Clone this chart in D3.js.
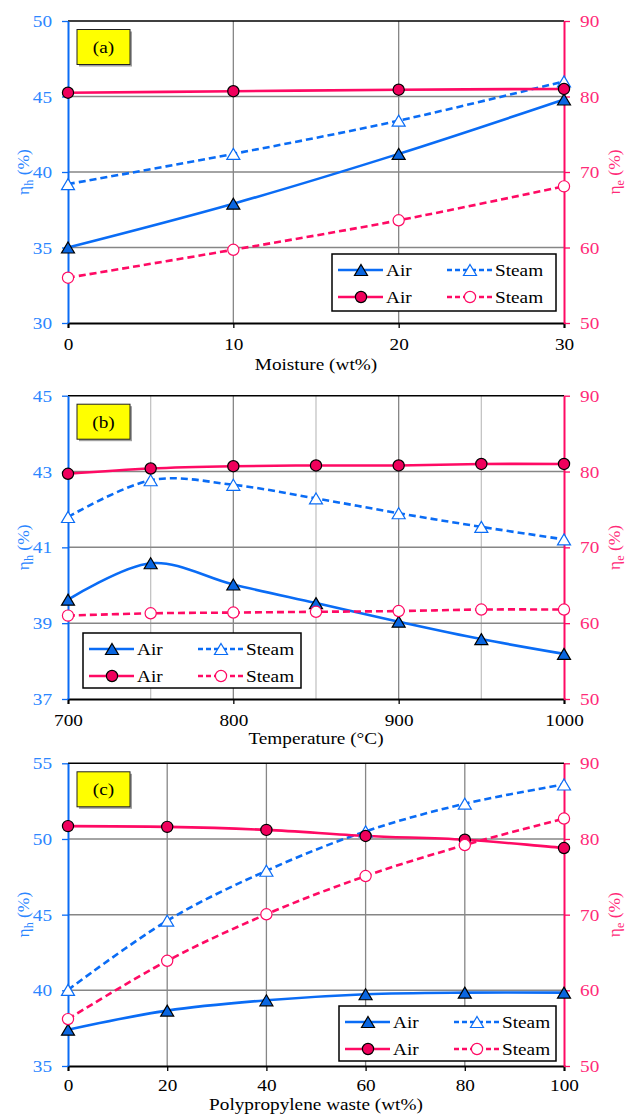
<!DOCTYPE html>
<html><head><meta charset="utf-8">
<script src="https://cdn.jsdelivr.net/npm/d3@7/dist/d3.min.js"></script>
<style>body{margin:0;background:#fff}svg{display:block}text{font-family:"Liberation Serif","Times New Roman",serif}</style>
</head><body>
<svg id="chart" width="627" height="1115"></svg>
<script>
// ---- data ----
const moisture = [0, 10, 20, 30];
const aHAir = [35.0, 37.9, 41.2, 44.8];
const aHSteam = [39.2, 41.2, 43.4, 46.0];
const aEAir = [80.5, 80.7, 80.9, 81.0];
const aESteam = [56.0, 59.7, 63.6, 68.1];

const temperature = [700, 750, 800, 850, 900, 950, 1000];
const bHAir = [39.62, 40.58, 40.02, 39.53, 39.04, 38.58, 38.19];
const bHSteam = [41.8, 42.77, 42.65, 42.29, 41.9, 41.54, 41.21];
const bEAir = [79.7, 80.4, 80.7, 80.8, 80.8, 81.0, 81.0];
const bESteam = [61.0, 61.3, 61.4, 61.5, 61.6, 61.8, 61.8];

const ppWaste = [0, 20, 40, 60, 80, 100];
const cHAir = [37.4, 38.66, 39.34, 39.74, 39.85, 39.85];
const cHSteam = [40.03, 44.6, 47.9, 50.5, 52.33, 53.6];
const cEAir = [81.7, 81.6, 81.2, 80.4, 79.9, 78.8];
const cESteam = [56.2, 63.9, 70.05, 75.1, 79.2, 82.7];

const aXTicks = [0, 10, 20, 30];
const aHTicks = [30, 35, 40, 45, 50];
const bXTicks = [700, 800, 900, 1000];
const bXMinor = [750, 850, 950];
const bHTicks = [37, 39, 41, 43, 45];
const cXTicks = [0, 20, 40, 60, 80, 100];
const cHTicks = [35, 40, 45, 50, 55];
const eTicks = [50, 60, 70, 80, 90];

const panelLabels = ["(a)", "(b)", "(c)"];
const xTitles = ["Moisture (wt%)", "Temperature (\u00B0C)", "Polypropylene waste (wt%)"];
const seriesNames = ["Air", "Steam", "Air", "Steam"];

// ---- style ----
const BLUE = "#0a6cf5", BLUE_T = "#2b86ff", PINK = "#ff0a64", PINK_T = "#ff2a78";
const FONT = 17.5;
const FF = '"Liberation Serif","Times New Roman",serif';
const svg = d3.select("#chart");

const panels = [
  {x: moisture, h: [aHAir, aHSteam], e: [aEAir, aESteam], xt: aXTicks, xm: [], ht: aHTicks,
   top: 21, bottom: 323, titleDy: 47, pad: 10, legend: {x: 332, y: 254, w: 224, h: 57}},
  {x: temperature, h: [bHAir, bHSteam], e: [bEAir, bESteam], xt: bXTicks, xm: bXMinor, ht: bHTicks,
   top: 395.7, bottom: 699, titleDy: 45, pad: 10, legend: {x: 83, y: 633, w: 218, h: 55}},
  {x: ppWaste, h: [cHAir, cHSteam], e: [cEAir, cESteam], xt: cXTicks, xm: [], ht: cHTicks,
   top: 763.3, bottom: 1066, titleDy: 44, pad: 8, legend: {x: 339, y: 1006, w: 217, h: 55}}
];
const X0 = 68, X1 = 564;

function triPath(w, h) {
  return `M0,${-h/2}L${w/2},${h/2}L${-w/2},${h/2}Z`;
}

panels.forEach((p, i) => {
  const g = svg.append("g");
  const x = d3.scaleLinear().domain(d3.extent(p.xt.concat(p.x))).range([X0, X1]);
  const yh = d3.scaleLinear().domain(d3.extent(p.ht)).range([p.bottom, p.top]);
  const ye = d3.scaleLinear().domain(d3.extent(eTicks)).range([p.bottom, p.top]);

  // grid
  g.selectAll(".gm").data(p.xm).join("line")
    .attr("x1", d => x(d)).attr("x2", d => x(d)).attr("y1", p.top).attr("y2", p.bottom)
    .attr("stroke", "#c4c4c4").attr("stroke-width", 1.3);
  g.selectAll(".gx").data(p.xt.slice(1, -1)).join("line")
    .attr("x1", d => x(d)).attr("x2", d => x(d)).attr("y1", p.top).attr("y2", p.bottom)
    .attr("stroke", "#868686").attr("stroke-width", 1.3);
  g.selectAll(".gy").data(p.ht.slice(1, -1)).join("line")
    .attr("x1", X0).attr("x2", X1).attr("y1", d => yh(d)).attr("y2", d => yh(d))
    .attr("stroke", "#868686").attr("stroke-width", 1.5);

  // top border & x axis
  g.append("line").attr("x1", X0).attr("x2", X1).attr("y1", p.top).attr("y2", p.top)
    .attr("stroke", "#000").attr("stroke-width", 1.5);
  const xa = g.append("g").attr("transform", `translate(0,${p.bottom})`)
    .call(d3.axisBottom(x).tickValues(p.xt).tickSize(5).tickPadding(p.pad).tickFormat(d3.format("d")));
  xa.select(".domain").attr("stroke", "#000").attr("stroke-width", 2);
  xa.selectAll(".tick line").attr("stroke", "#000").attr("stroke-width", 1.3);
  xa.selectAll("text").attr("font-size", FONT).attr("fill", "#000").attr("font-family", FF);

  // left axis
  const la = g.append("g").attr("transform", `translate(${X0},0)`)
    .call(d3.axisLeft(yh).tickValues(p.ht).tickSize(6).tickPadding(10).tickSizeOuter(0));
  la.select(".domain").attr("stroke", BLUE).attr("stroke-width", 2);
  la.selectAll(".tick line").attr("stroke", BLUE).attr("stroke-width", 1.3);
  la.selectAll("text").attr("font-size", FONT).attr("fill", BLUE_T).attr("font-family", FF);

  // right axis
  const ra = g.append("g").attr("transform", `translate(${X1},0)`)
    .call(d3.axisRight(ye).tickValues(eTicks).tickSize(6).tickPadding(10).tickSizeOuter(0));
  ra.select(".domain").attr("stroke", PINK).attr("stroke-width", 2);
  ra.selectAll(".tick line").attr("stroke", PINK).attr("stroke-width", 1.3);
  ra.selectAll("text").attr("font-size", FONT).attr("fill", PINK_T).attr("font-family", FF);

  // x title
  g.append("text").attr("class", "stretch").attr("x", (X0 + X1) / 2).attr("y", p.bottom + p.titleDy)
    .attr("text-anchor", "middle").attr("font-size", FONT).attr("fill", "#000").text(xTitles[i]);

  // y titles
  const midY = (p.top + p.bottom) / 2;
  const lt = g.append("text").attr("transform", `translate(29,${midY}) rotate(-90)`)
    .attr("text-anchor", "middle").attr("font-size", FONT).attr("fill", BLUE_T);
  lt.append("tspan").text("\u03B7");
  lt.append("tspan").attr("font-size", 12).attr("dy", 4).text("h");
  lt.append("tspan").attr("dy", -4).text(" (%)");
  const rt = g.append("text").attr("transform", `translate(620,${midY}) rotate(-90)`)
    .attr("text-anchor", "middle").attr("font-size", FONT).attr("fill", PINK_T);
  rt.append("tspan").text("\u03B7");
  rt.append("tspan").attr("font-size", 12).attr("dy", 4).text("e");
  rt.append("tspan").attr("dy", -4).text(" (%)");

  // series
  const curve = d3.curveCardinal.tension(0);
  const lineH = d3.line().x((d, k) => x(p.x[k])).y(d => yh(d)).curve(curve);
  const lineE = d3.line().x((d, k) => x(p.x[k])).y(d => ye(d)).curve(curve);
  const series = [
    {vals: p.h[0], line: lineH, y: yh, col: BLUE, dash: null, mk: "tri", fill: "#0a66e0"},
    {vals: p.h[1], line: lineH, y: yh, col: BLUE, dash: "7,4", mk: "tri", fill: "#fff"},
    {vals: p.e[0], line: lineE, y: ye, col: PINK, dash: null, mk: "cir", fill: "#f0005c"},
    {vals: p.e[1], line: lineE, y: ye, col: PINK, dash: "7,4", mk: "cir", fill: "#fff"}
  ];
  series.forEach(s => {
    g.append("path").attr("d", s.line(s.vals)).attr("fill", "none")
      .attr("stroke", s.col).attr("stroke-width", 2.6).attr("stroke-dasharray", s.dash);
  });
  series.forEach(s => {
    const stroke = s.fill === "#fff" ? s.col : "#000";
    if (s.mk === "tri") {
      g.selectAll(null).data(s.vals).join("path")
        .attr("d", triPath(13, 11))
        .attr("transform", (d, k) => `translate(${x(p.x[k])},${s.y(d)})`)
        .attr("fill", s.fill).attr("stroke", stroke).attr("stroke-width", 1.2);
    } else {
      g.selectAll(null).data(s.vals).join("circle")
        .attr("cx", (d, k) => x(p.x[k])).attr("cy", d => s.y(d)).attr("r", 5.6)
        .attr("fill", s.fill).attr("stroke", stroke).attr("stroke-width", 1.2);
    }
  });

  // legend
  const L = p.legend;
  const lg = g.append("g").attr("transform", `translate(${L.x},${L.y})`);
  lg.append("rect").attr("width", L.w).attr("height", L.h).attr("fill", "#fff")
    .attr("stroke", "#000").attr("stroke-width", 1.5);
  series.forEach((s, k) => {
    const col = k % 2, row = Math.floor(k / 2);
    const lx = 6 + col * 109, ly = 16 + row * 27;
    lg.append("line").attr("x1", lx).attr("x2", lx + 45).attr("y1", ly).attr("y2", ly)
      .attr("stroke", s.col).attr("stroke-width", 2.6).attr("stroke-dasharray", s.dash ? "5,3" : null);
    const stroke = s.fill === "#fff" ? s.col : "#000";
    if (s.mk === "tri") {
      lg.append("path").attr("d", triPath(13, 11)).attr("transform", `translate(${lx + 23},${ly})`)
        .attr("fill", s.fill).attr("stroke", stroke).attr("stroke-width", 1.2);
    } else {
      lg.append("circle").attr("cx", lx + 23).attr("cy", ly).attr("r", 5.6)
        .attr("fill", s.fill).attr("stroke", stroke).attr("stroke-width", 1.2);
    }
    lg.append("text").attr("class", "stretch").attr("x", lx + 48).attr("y", ly + 6).attr("font-size", FONT)
      .attr("fill", "#000").text(seriesNames[k]);
  });

  // panel label box
  const bx = g.append("g").attr("transform", `translate(77,${p.top + 8.5})`);
  bx.append("rect").attr("x", 2).attr("y", 2).attr("width", 53).attr("height", 35).attr("fill", "#a0a0a0");
  bx.append("rect").attr("width", 53).attr("height", 35).attr("fill", "#ffff00")
    .attr("stroke", "#222").attr("stroke-width", 1);
  bx.append("text").attr("class", "stretch").attr("x", 26.5).attr("y", 23.5).attr("text-anchor", "middle")
    .attr("font-size", FONT).attr("fill", "#000").text(panelLabels[i]);

  xa.selectAll("text").classed("stretch", true);
  la.selectAll("text").classed("stretch", true);
  ra.selectAll("text").classed("stretch", true);
});

// the reference glyphs are slightly wider than the font's natural width
svg.selectAll("text.stretch").each(function () {
  const len = this.getComputedTextLength();
  if (len > 0) d3.select(this).attr("textLength", len * 1.1).attr("lengthAdjust", "spacingAndGlyphs");
});
</script>
</body></html>
